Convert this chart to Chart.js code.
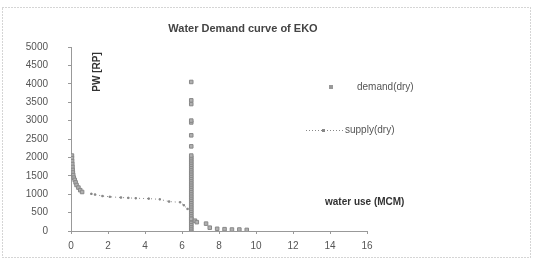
<!DOCTYPE html>
<html>
<head>
<meta charset="utf-8">
<script src="https://cdn.jsdelivr.net/npm/chart.js@4"></script>
<style>
  html, body { margin: 0; padding: 0; background: #fff; }
  #chart { display: block; }
</style>
</head>
<body>
<canvas id="chart" width="535" height="260"></canvas>
<script>
// values (x = water use, y = PW)
const xTicks = [0, 2, 4, 6, 8, 10, 12, 14, 16]
const yTicks = [0, 500, 1000, 1500, 2000, 2500, 3000, 3500, 4000, 4500, 5000]

const demandX = [
    0.05, 0.05, 0.06, 0.07, 0.08, 0.09, 0.1, 0.12, 0.15, 0.2, 0.25, 0.3, 0.4, 0.5, 0.6,
    6.5, 6.5, 6.5, 6.5, 6.5, 6.5, 6.5, 6.5, 6.5, 6.5, 6.5, 6.5, 6.5, 6.5, 6.5, 6.5, 6.5, 6.5, 6.5, 6.5, 6.5,
    6.5, 6.5, 6.5, 6.5, 6.5, 6.5, 6.5, 6.5, 6.5, 6.5, 6.5, 6.5, 6.5, 6.5, 6.5, 6.5, 6.5, 6.5, 6.5, 6.5, 6.5,
    6.5, 6.5, 6.5, 6.5, 6.5, 6.5, 6.5, 6.5,
    6.7, 6.8, 7.3, 7.5, 7.9, 8.3, 8.7, 9.1, 9.5, 10.0
]
const demandY = [
    2050, 1980, 1900, 1820, 1740, 1660, 1590, 1520, 1450, 1390, 1320, 1250, 1180, 1110, 1060,
    0, 50, 100, 150, 200, 250, 300, 350, 400, 450, 500, 550, 600, 650, 700, 750, 800, 850, 900, 950, 1000,
    1050, 1100, 1150, 1200, 1250, 1300, 1350, 1400, 1450, 1500, 1550, 1600, 1650, 1700, 1750, 1800, 1850, 1900, 1950, 2000,
    2050, 2300, 2600, 2950, 3000, 3450, 3550, 4050,
    330, 280, 240, 200, 90, 60, 50, 40, 40, 30
]

const supplyX = [1.1, 1.3, 1.7, 2.1, 2.7, 3.1, 3.5, 4.2, 4.8, 5.3, 5.9, 6.1, 6.3]
const supplyY = [1010, 990, 950, 930, 910, 900, 890, 880, 860, 800, 780, 700, 600]

const toPoints = (xs, ys) => xs.map((x, i) => ({ x: x, y: ys[i] }))

const font = 'Liberation Sans, Arial, sans-serif'

const decorations = {
    id: 'decorations',
    afterDraw(chart) {
        const ctx = chart.ctx
        ctx.save()

        // dotted outer frame like the scanned chart border
        ctx.strokeStyle = '#aaa'
        ctx.lineWidth = 1
        ctx.setLineDash([1, 2])
        ctx.strokeRect(2.5, 7.5, 528, 250)
        ctx.setLineDash([])

        ctx.fillStyle = '#444'
        ctx.textBaseline = 'middle'

        ctx.font = 'bold 11px ' + font
        ctx.textAlign = 'center'
        ctx.fillText('Water Demand curve of EKO', 243, 29)

        // legend
        ctx.font = '10px ' + font
        ctx.textAlign = 'left'
        ctx.fillStyle = '#999'
        ctx.fillRect(329, 85, 4, 4)
        ctx.fillStyle = '#555'
        ctx.fillText('demand(dry)', 357, 87)

        ctx.strokeStyle = '#888'
        ctx.setLineDash([1, 2])
        ctx.beginPath()
        ctx.moveTo(306, 130.5)
        ctx.lineTo(343, 130.5)
        ctx.stroke()
        ctx.setLineDash([])
        ctx.fillStyle = '#888'
        ctx.fillRect(322, 129, 3, 3)
        ctx.fillStyle = '#555'
        ctx.fillText('supply(dry)', 345, 130)

        ctx.fillStyle = '#333'
        ctx.font = 'bold 10px ' + font
        ctx.fillText('water use (MCM)', 325, 202)

        ctx.translate(97, 72)
        ctx.rotate(-Math.PI / 2)
        ctx.textAlign = 'center'
        ctx.fillText('PW [RP]', 0, 0)

        ctx.restore()
    }
}

new Chart(document.getElementById('chart'), {
    type: 'scatter',
    data: {
        datasets: [
            {
                label: 'demand(dry)',
                data: toPoints(demandX, demandY),
                pointStyle: 'rect',
                pointRadius: 2.5,
                backgroundColor: '#b0b0b0',
                borderColor: '#888',
                borderWidth: 1,
            },
            {
                label: 'supply(dry)',
                data: toPoints(supplyX, supplyY),
                showLine: true,
                borderColor: '#888',
                borderWidth: 1,
                borderDash: [1, 3],
                pointStyle: 'rect',
                pointRadius: 1,
                backgroundColor: '#777',
            }
        ]
    },
    options: {
        responsive: false,
        animation: false,
        layout: {
            padding: { left: 23, right: 168, top: 47, bottom: 7 }
        },
        plugins: {
            legend: { display: false },
            title: { display: false },
            tooltip: { enabled: false },
        },
        scales: {
            x: {
                type: 'linear',
                min: 0,
                max: 16,
                afterBuildTicks: (scale) => { scale.ticks = xTicks.map(v => ({ value: v })) },
                afterFit: (scale) => { scale.height = 22 },
                grid: { display: true, drawOnChartArea: false, tickLength: 3, color: '#999' },
                border: { color: '#999', dash: [1, 2] },
                ticks: {
                    color: '#555',
                    padding: 6,
                    font: { family: font, size: 10 },
                    maxRotation: 0,
                    callback: (value) => String(value),
                }
            },
            y: {
                min: 0,
                max: 5000,
                afterBuildTicks: (scale) => { scale.ticks = yTicks.map(v => ({ value: v })) },
                afterFit: (scale) => { scale.width = 48 },
                grid: { display: true, drawOnChartArea: false, tickLength: 3, color: '#999' },
                border: { color: '#999', dash: [1, 2] },
                ticks: {
                    color: '#555',
                    padding: 20,
                    font: { family: font, size: 10 },
                    callback: (value) => String(value),
                }
            }
        }
    },
    plugins: [decorations]
})
</script>
</body>
</html>
